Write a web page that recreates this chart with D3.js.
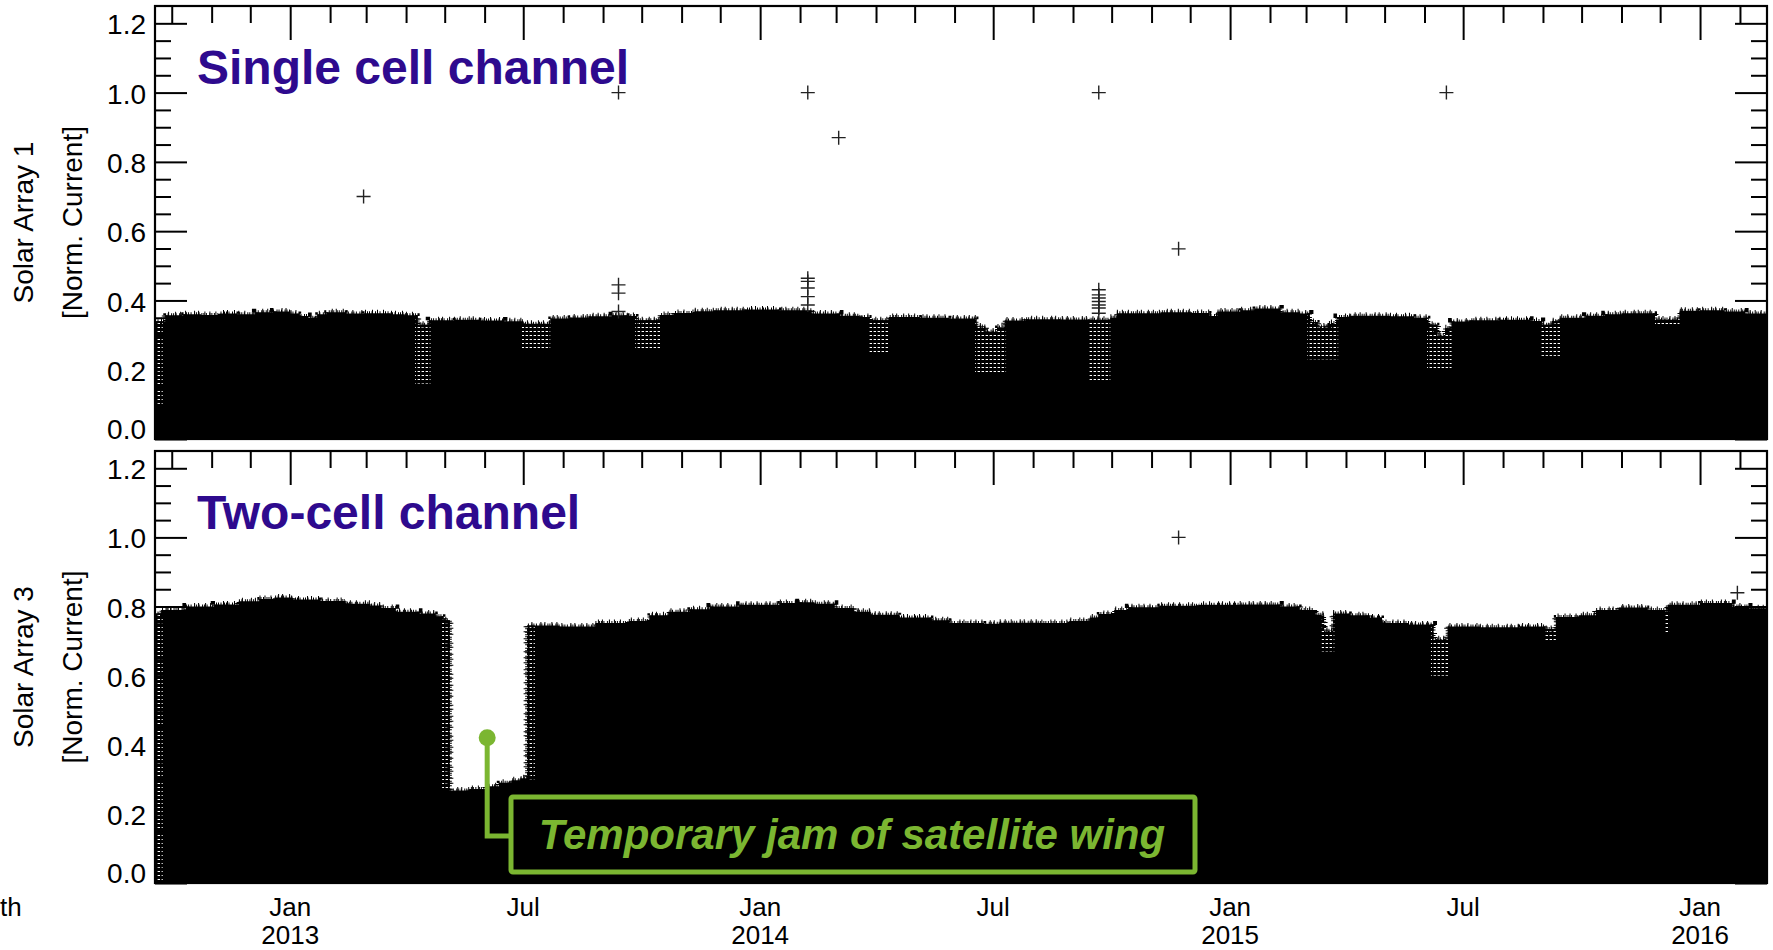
<!DOCTYPE html>
<html>
<head>
<meta charset="utf-8">
<script src="https://cdn.jsdelivr.net/npm/d3@7"></script>
<style>
  html, body { margin: 0; padding: 0; background: #fff; }
  svg { display: block; font-family: "Liberation Sans", Arial, Helvetica, sans-serif; }
</style>
</head>
<body>
<svg id="chart" width="1773" height="950"></svg>
<script>
// ---- Time range of the record ----
const timeStart = "2012-09-18";
const timeEnd = "2016-02-22";

// ---- Solar Array 1 (single cell channel): upper envelope of the normalised current ----
const sa1Dates = ["2012-09-18","2012-09-26","2012-10-10","2012-10-24","2012-11-07","2012-11-21","2012-12-05","2012-12-19","2013-01-01","2013-01-08","2013-01-15","2013-01-22","2013-01-29","2013-02-13","2013-02-27","2013-03-20","2013-03-31","2013-04-10","2013-04-19","2013-05-09","2013-05-28","2013-06-16","2013-07-01","2013-07-22","2013-08-06","2013-08-21","2013-09-08","2013-09-20","2013-09-27","2013-10-15","2013-10-26","2013-11-11","2013-11-26","2013-12-20","2014-01-16","2014-02-10","2014-03-04","2014-03-19","2014-03-27","2014-04-11","2014-05-05","2014-05-28","2014-06-18","2014-06-25","2014-07-04","2014-07-10","2014-07-26","2014-08-22","2014-09-14","2014-09-30","2014-10-05","2014-11-08","2014-12-01","2014-12-16","2014-12-22","2015-01-09","2015-01-20","2015-02-09","2015-02-24","2015-03-04","2015-03-10","2015-03-18","2015-03-25","2015-04-04","2015-05-05","2015-05-24","2015-06-04","2015-06-11","2015-06-17","2015-06-22","2015-07-06","2015-07-30","2015-08-22","2015-08-31","2015-09-08","2015-09-14","2015-10-04","2015-10-19","2015-11-01","2015-11-27","2015-12-16","2016-01-01","2016-01-20","2016-02-05"];
const sa1Values = [0.34,0.357,0.36,0.358,0.362,0.36,0.366,0.368,0.362,0.355,0.35,0.36,0.366,0.362,0.363,0.36,0.357,0.33,0.343,0.344,0.342,0.34,0.333,0.348,0.351,0.354,0.357,0.355,0.343,0.358,0.364,0.369,0.372,0.374,0.372,0.362,0.356,0.352,0.343,0.352,0.35,0.348,0.325,0.31,0.322,0.342,0.346,0.345,0.344,0.35,0.363,0.366,0.364,0.355,0.368,0.372,0.377,0.366,0.362,0.338,0.325,0.335,0.352,0.356,0.354,0.35,0.33,0.3,0.32,0.339,0.343,0.344,0.341,0.33,0.34,0.35,0.356,0.36,0.363,0.345,0.37,0.372,0.368,0.362];

// Eclipse-season intervals where the samples scatter (sparse crosses) down to a lower value
const sa1HatchStart = ["2012-09-18","2013-04-08","2013-06-30","2013-09-26","2014-03-26","2014-06-17","2014-09-13","2015-03-02","2015-06-03","2015-08-30","2015-11-27"];
const sa1HatchEnd   = ["2012-09-24","2013-04-20","2013-07-22","2013-10-16","2014-04-11","2014-07-11","2014-09-30","2015-03-26","2015-06-22","2015-09-15","2015-12-16"];
const sa1HatchLow   = [0.10,0.16,0.26,0.26,0.25,0.19,0.17,0.23,0.20,0.24,0.33];

// Isolated samples well above the envelope
const sa1OutlierDates = ["2013-02-27","2013-09-13","2013-09-13","2013-09-13","2013-09-13","2014-02-07","2014-02-07","2014-02-07","2014-02-07","2014-02-07","2014-02-07","2014-03-03","2014-09-21","2014-09-21","2014-09-21","2014-09-21","2014-09-21","2014-09-21","2014-09-21","2014-09-21","2014-11-22","2015-06-18"];
const sa1OutlierValues = [0.70,1.0,0.445,0.421,0.368,1.0,0.464,0.455,0.436,0.411,0.387,0.87,1.0,0.431,0.416,0.407,0.397,0.387,0.378,0.363,0.549,1.0];

// ---- Solar Array 3 (two-cell channel) ----
const sa3Dates = ["2012-09-18","2012-09-23","2012-10-12","2012-11-03","2012-11-22","2012-12-08","2012-12-20","2013-01-03","2013-01-24","2013-02-13","2013-03-04","2013-03-13","2013-03-24","2013-04-11","2013-04-24","2013-04-30","2013-05-05","2013-05-20","2013-06-02","2013-06-12","2013-06-22","2013-06-29","2013-07-04","2013-07-29","2013-08-26","2013-09-21","2013-10-07","2013-10-22","2013-11-07","2013-11-23","2013-12-16","2014-01-16","2014-01-31","2014-02-12","2014-02-28","2014-03-15","2014-03-28","2014-04-19","2014-05-14","2014-05-28","2014-06-24","2014-07-06","2014-08-06","2014-08-29","2014-09-14","2014-09-21","2014-10-03","2014-10-14","2014-11-07","2014-12-08","2015-01-08","2015-02-09","2015-02-24","2015-03-08","2015-03-15","2015-03-22","2015-04-04","2015-04-19","2015-04-29","2015-05-20","2015-06-08","2015-06-19","2015-07-14","2015-08-14","2015-09-03","2015-09-11","2015-09-29","2015-10-12","2015-10-30","2015-11-21","2015-12-07","2016-01-01","2016-01-26","2016-02-08"];
const sa3Values = [0.78,0.79,0.80,0.806,0.815,0.822,0.826,0.82,0.816,0.808,0.803,0.796,0.785,0.78,0.772,0.76,0.268,0.272,0.28,0.29,0.297,0.303,0.745,0.742,0.752,0.758,0.775,0.785,0.792,0.8,0.805,0.81,0.812,0.808,0.796,0.785,0.776,0.768,0.76,0.752,0.75,0.753,0.752,0.758,0.768,0.778,0.79,0.798,0.802,0.805,0.806,0.8,0.79,0.776,0.73,0.78,0.775,0.768,0.752,0.748,0.705,0.742,0.74,0.742,0.735,0.77,0.775,0.79,0.797,0.79,0.805,0.81,0.8,0.795];

const sa3HatchStart = ["2012-09-18","2013-04-29","2013-07-04","2015-03-13","2015-06-06","2015-09-02","2015-12-04"];
const sa3HatchEnd   = ["2012-09-24","2013-05-06","2013-07-10","2015-03-23","2015-06-20","2015-09-11","2015-12-08"];
const sa3HatchLow   = [0.0,0.27,0.30,0.67,0.60,0.70,0.72];

const sa3OutlierDates = ["2014-11-22","2016-01-30"];
const sa3OutlierValues = [1.0,0.84];

// ---- Axis ticks ----
const yMajorTicks = [0, 0.2, 0.4, 0.6, 0.8, 1.0, 1.2];
const yTickLabels = ["0.0","0.2","0.4","0.6","0.8","1.0","1.2"];
const yMinorTicks = [0.05,0.1,0.15,0.25,0.3,0.35,0.45,0.5,0.55,0.65,0.7,0.75,0.85,0.9,0.95,1.05,1.1,1.15];
const xMajorTicks = ["2013-01-01","2013-07-01","2014-01-01","2014-07-01","2015-01-01","2015-07-01","2016-01-01"];
const xMajorLabels = [["Jan","2013"],["Jul"],["Jan","2014"],["Jul"],["Jan","2015"],["Jul"],["Jan","2016"]];

// ---- Setup ----
const parse = d3.utcParse("%Y-%m-%d");
const svg = d3.select("#chart");

const x = d3.scaleUtc().domain([parse(timeStart), parse(timeEnd)]).range([155, 1767]);
const xMinorTicks = d3.utcMonth.range(parse("2012-10-01"), parse(timeEnd))
  .filter(d => d.getUTCMonth() !== 0 && d.getUTCMonth() !== 6);

const titleColor = "#2e0a8e";
const noteColor = "#7bb631";

const panels = [
  { id: "sa1", top: 6, bottom: 439, title: "Single cell channel", ylab: "Solar Array 1",
    dates: sa1Dates, values: sa1Values,
    hs: sa1HatchStart, he: sa1HatchEnd, hl: sa1HatchLow,
    od: sa1OutlierDates, ov: sa1OutlierValues },
  { id: "sa3", top: 451, bottom: 883, title: "Two-cell channel", ylab: "Solar Array 3",
    dates: sa3Dates, values: sa3Values,
    hs: sa3HatchStart, he: sa3HatchEnd, hl: sa3HatchLow,
    od: sa3OutlierDates, ov: sa3OutlierValues }
];

const defs = svg.append("defs");
// dense cross texture used where samples are sparse
const pat = defs.append("pattern").attr("id", "sparse").attr("patternUnits", "userSpaceOnUse")
  .attr("width", 4).attr("height", 4);
pat.append("rect").attr("width", 4).attr("height", 4).attr("fill", "#fff");
pat.append("rect").attr("x", 0).attr("y", 0).attr("width", 4).attr("height", 3).attr("fill", "#000");
pat.append("rect").attr("x", 0).attr("y", 0).attr("width", 1.6).attr("height", 4).attr("fill", "#000");

panels.forEach(p => {
  const y = d3.scaleLinear().domain([0, 1.25]).range([p.bottom, p.top]);
  p.y = y;

  const pts = p.dates.map((d, i) => ({ t: parse(d), v: p.values[i] }));
  pts.push({ t: parse(timeEnd), v: p.values[p.values.length - 1] });

  defs.append("clipPath").attr("id", "plot-" + p.id)
    .append("rect").attr("x", x.range()[0]).attr("y", p.top)
    .attr("width", x.range()[1] - x.range()[0]).attr("height", p.bottom - p.top);

  const area = d3.area().curve(d3.curveStepAfter)
    .x(d => x(d.t)).y0(y(0)).y1(d => y(d.v));
  const edge = d3.line().curve(d3.curveStepAfter)
    .x(d => x(d.t)).y(d => y(d.v));

  defs.append("clipPath").attr("id", "env-" + p.id)
    .append("path").attr("d", area(pts));

  const g = svg.append("g").attr("clip-path", `url(#plot-${p.id})`);

  // dense block of samples
  g.append("path").attr("d", area(pts)).attr("fill", "#000");

  // sparse scatter during eclipse seasons
  const hg = g.append("g").attr("clip-path", `url(#env-${p.id})`);
  p.hs.forEach((s, i) => {
    const x0 = x(parse(s)), x1 = x(parse(p.he[i]));
    hg.append("rect").attr("x", x0).attr("width", x1 - x0)
      .attr("y", p.top).attr("height", y(p.hl[i]) - p.top)
      .attr("fill", "url(#sparse)");
  });

  // ragged upper edge made by the overlapping plus symbols
  g.append("path").attr("d", edge(pts)).attr("fill", "none")
    .attr("stroke", "#000").attr("stroke-width", 7).attr("stroke-dasharray", "1 5 1 8 1 3 1 6 1 4");
  g.append("path").attr("d", edge(pts)).attr("fill", "none")
    .attr("stroke", "#000").attr("stroke-width", 4).attr("stroke-dasharray", "1 1.5 1 2.5 1 1");

  // outliers
  g.selectAll("path.outlier").data(p.od.map((d, i) => ({ t: parse(d), v: p.ov[i] })))
    .join("path").attr("class", "outlier")
    .attr("transform", d => `translate(${x(d.t)},${y(d.v)})`)
    .attr("d", "M-7,0H7M0,-7V7")
    .attr("stroke", "#222").attr("stroke-width", 1.4).attr("fill", "none");

  // ---- axes (ticks point inward on all four sides) ----
  const ax = svg.append("g").attr("class", "axes");
  const style = sel => {
    sel.select(".domain").remove();
    sel.selectAll(".tick line").attr("stroke", "#000").attr("stroke-width", 2);
    sel.selectAll(".tick text").remove();
  };
  const xMaj = xMajorTicks.map(parse);
  ax.append("g").attr("transform", `translate(${x.range()[0]},0)`)
    .call(d3.axisLeft(y).tickValues(yMajorTicks).tickSize(-32)).call(style);
  ax.append("g").attr("transform", `translate(${x.range()[0]},0)`)
    .call(d3.axisLeft(y).tickValues(yMinorTicks).tickSize(-16)).call(style);
  ax.append("g").attr("transform", `translate(${x.range()[1]},0)`)
    .call(d3.axisRight(y).tickValues(yMajorTicks).tickSize(-32)).call(style);
  ax.append("g").attr("transform", `translate(${x.range()[1]},0)`)
    .call(d3.axisRight(y).tickValues(yMinorTicks).tickSize(-16)).call(style);
  ax.append("g").attr("transform", `translate(0,${p.top})`)
    .call(d3.axisTop(x).tickValues(xMaj).tickSize(-34)).call(style);
  ax.append("g").attr("transform", `translate(0,${p.top})`)
    .call(d3.axisTop(x).tickValues(xMinorTicks).tickSize(-17)).call(style);
  ax.append("g").attr("transform", `translate(0,${p.bottom})`)
    .call(d3.axisBottom(x).tickValues(xMaj).tickSize(-34)).call(style);
  ax.append("g").attr("transform", `translate(0,${p.bottom})`)
    .call(d3.axisBottom(x).tickValues(xMinorTicks).tickSize(-17)).call(style);

  ax.append("rect").attr("x", x.range()[0]).attr("y", p.top)
    .attr("width", x.range()[1] - x.range()[0]).attr("height", p.bottom - p.top)
    .attr("fill", "none").attr("stroke", "#000").attr("stroke-width", 2.2);

  // y tick labels
  ax.selectAll("text.ylab").data(yMajorTicks).join("text").attr("class", "ylab")
    .attr("x", 146).attr("y", d => y(d) + (d === 0 ? -10 : 1))
    .attr("dy", "0.36em").attr("text-anchor", "end")
    .attr("font-size", 28).attr("fill", "#000")
    .text((d, i) => yTickLabels[i]);

  // y axis title (two lines)
  const cy = (p.top + p.bottom) / 2;
  ax.append("text").attr("transform", `translate(33,${cy}) rotate(-90)`)
    .attr("text-anchor", "middle").attr("font-size", 28).attr("fill", "#000").text(p.ylab);
  ax.append("text").attr("transform", `translate(82,${cy}) rotate(-90)`)
    .attr("text-anchor", "middle").attr("font-size", 28).attr("fill", "#000").text("[Norm. Current]");

  // panel title
  svg.append("text").attr("x", 197).attr("y", p.top + 78)
    .attr("font-size", 48).attr("font-weight", "bold").attr("fill", titleColor).text(p.title);
});

// ---- x tick labels under the lower panel ----
const xl = svg.append("g");
xMajorTicks.forEach((d, i) => {
  xMajorLabels[i].forEach((s, k) => {
    xl.append("text").attr("text-anchor", "middle").attr("font-size", 26).attr("fill", "#000")
      .attr("x", x(parse(d))).attr("y", 916 + k * 28).text(s);
  });
});
xl.append("text").attr("x", 0).attr("y", 916).attr("font-size", 26).attr("fill", "#000").text("th");

// ---- annotation of the jam in the two-cell channel ----
const p3 = panels[1];
const dotX = x(parse("2013-06-03")), dotY = p3.y(0.42);
const boxX = 511, boxY = 797, boxW = 684, boxH = 75;
const note = svg.append("g");
note.append("path")
  .attr("d", `M${dotX},${dotY}V${boxY + 39}H${boxX}`)
  .attr("fill", "none").attr("stroke", noteColor).attr("stroke-width", 5);
note.append("circle").attr("cx", dotX).attr("cy", dotY).attr("r", 8.5).attr("fill", noteColor);
note.append("rect").attr("x", boxX).attr("y", boxY).attr("width", boxW).attr("height", boxH)
  .attr("rx", 2).attr("fill", "none").attr("stroke", noteColor).attr("stroke-width", 5);
note.append("text").attr("x", boxX + boxW / 2 - 1).attr("y", boxY + 52)
  .attr("text-anchor", "middle").attr("font-size", 42).attr("font-weight", "bold")
  .attr("font-style", "italic").attr("fill", noteColor)
  .text("Temporary jam of satellite wing");
</script>
</body>
</html>
